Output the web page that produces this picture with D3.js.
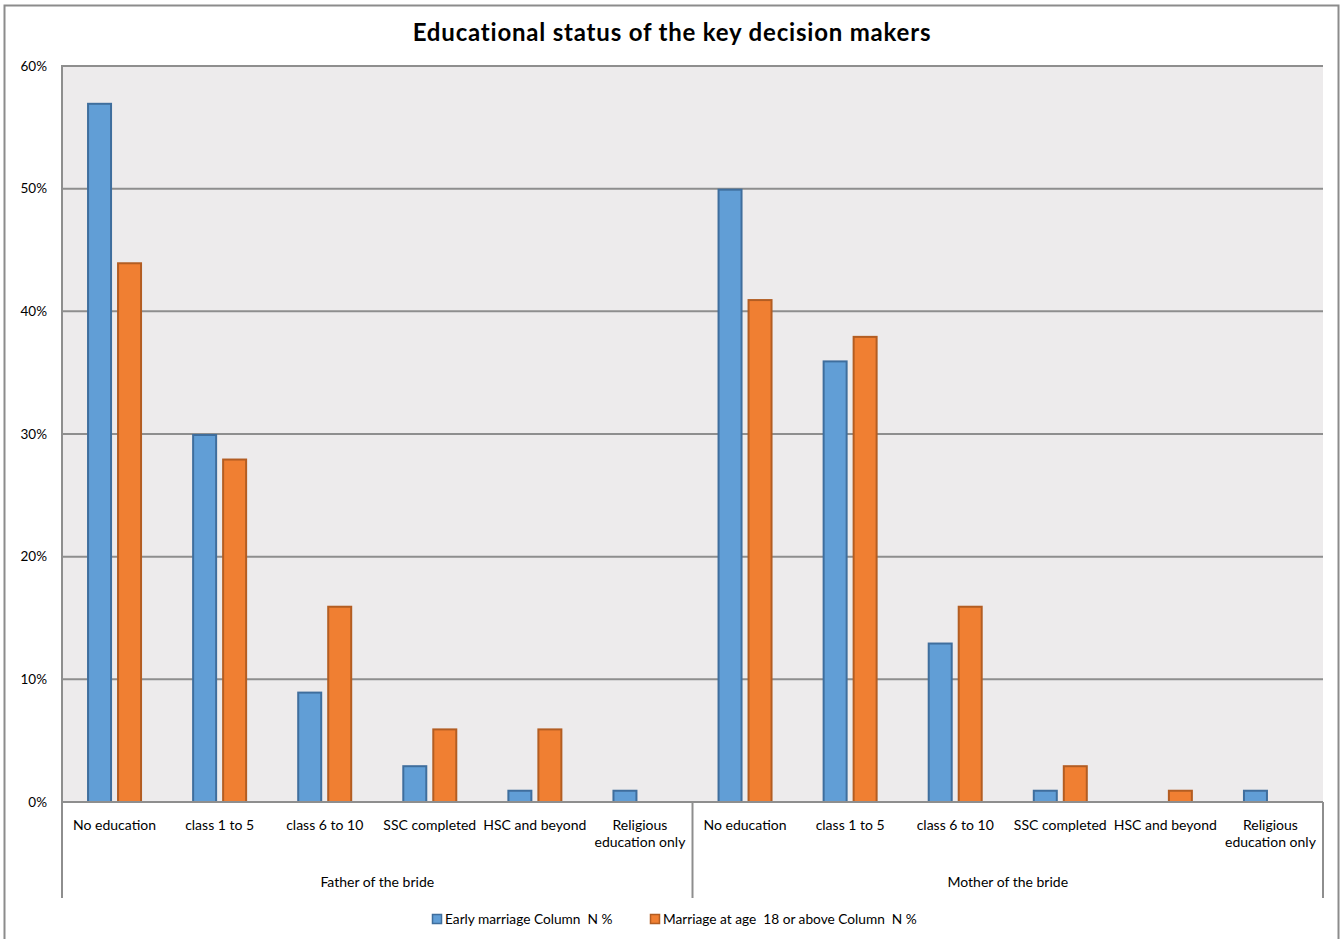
<!DOCTYPE html>
<html><head><meta charset="utf-8">
<script src="https://cdn.jsdelivr.net/npm/d3@7"></script>
<style>
html,body{margin:0;padding:0;background:#fff;}
svg{display:block;font-family:Lato,"Open Sans",sans-serif;}
</style></head>
<body><svg id="c" width="1340" height="939"></svg>
<script>
const title = "Educational status of the key decision makers";
const groups = ["Father of the bride", "Mother of the bride"];
const categories = ["No education", "class 1 to 5", "class 6 to 10", "SSC completed", "HSC and beyond", "Religious|education only"];
const seriesNames = ["Early marriage Column  N %", "Marriage at age  18 or above Column  N %"];
const earlyFather = [57, 30, 9, 3, 1, 1];
const laterFather = [44, 28, 16, 6, 6, 0];
const earlyMother = [50, 36, 13, 1, 0, 1];
const laterMother = [41, 38, 16, 3, 1, 0];
const yTicks = [0, 10, 20, 30, 40, 50, 60];

const colors = ["#619ED6", "#F07F32"];
const strokes = ["#3F6E9D", "#B35D22"];

const svg = d3.select("#c");
const L = 62, R = 1323, T = 66, B = 802;

// outer border
svg.append("rect").attr("x", 4.5).attr("y", 5.5).attr("width", 1334).attr("height", 945)
  .attr("fill", "#fff").attr("stroke", "#8c8c8c").attr("stroke-width", 2);

// title
svg.append("text").attr("x", 672).attr("y", 41).attr("text-anchor", "middle")
  .attr("font-size", 24).attr("font-weight", "bold").attr("letter-spacing", 0.8).attr("fill", "#000").text(title);

// plot background
svg.append("rect").attr("x", L).attr("y", T).attr("width", R - L).attr("height", B - T).attr("fill", "#EDEBEC");

const y = d3.scaleLinear().domain([0, 60]).range([B, T]);

// data rows
const rows = [];
groups.forEach((g, gi) => {
  const e = gi === 0 ? earlyFather : earlyMother;
  const l = gi === 0 ? laterFather : laterMother;
  categories.forEach((c, ci) => rows.push({key: gi + "-" + ci, group: gi, cat: c, vals: [e[ci], l[ci]]}));
});

const x0 = d3.scaleBand().domain(rows.map(d => d.key)).range([L, R]).padding(0);
const bw = x0.bandwidth();
const x1 = d3.scaleBand().domain([0, 1]).range([bw / 2 - 27.5, bw / 2 + 27.5]).paddingInner(1 / 6).paddingOuter(0);

// gridlines
svg.append("g").selectAll("line").data(yTicks).join("line")
  .attr("x1", L).attr("x2", R).attr("y1", d => y(d)).attr("y2", d => y(d))
  .attr("stroke", "#8e8e8e").attr("stroke-width", 2);

// y tick labels
svg.append("g").selectAll("text").data(yTicks).join("text")
  .attr("x", 47).attr("y", d => y(d) + 4.5).attr("text-anchor", "end")
  .attr("font-size", 13.5).attr("fill", "#000").text(d => d + "%");

// bars
const gBars = svg.append("g");
rows.forEach(r => {
  r.vals.forEach((v, si) => {
    if (v <= 0) return;
    gBars.append("rect")
      .attr("x", x0(r.key) + x1(si) + 1).attr("y", y(v) + 1)
      .attr("width", x1.bandwidth() - 2).attr("height", y(0) - y(v) - 1)
      .attr("fill", colors[si]).attr("stroke", strokes[si]).attr("stroke-width", 2);
  });
});

// axis lines
svg.append("line").attr("x1", L).attr("x2", L).attr("y1", T - 1).attr("y2", 898).attr("stroke", "#8e8e8e").attr("stroke-width", 2);
svg.append("line").attr("x1", R).attr("x2", R).attr("y1", B).attr("y2", 898).attr("stroke", "#8e8e8e").attr("stroke-width", 2);
svg.append("line").attr("x1", L).attr("x2", R).attr("y1", B).attr("y2", B).attr("stroke", "#8e8e8e").attr("stroke-width", 2);
const mid = x0(rows[6].key);
svg.append("line").attr("x1", mid).attr("x2", mid).attr("y1", B).attr("y2", 898).attr("stroke", "#8e8e8e").attr("stroke-width", 2);

// category labels
rows.forEach(r => {
  const lines = r.cat.split("|");
  const t = svg.append("text").attr("x", x0(r.key) + bw / 2).attr("y", 830)
    .attr("text-anchor", "middle").attr("font-size", 14).attr("fill", "#000");
  lines.forEach((ln, i) => t.append("tspan").attr("x", x0(r.key) + bw / 2).attr("dy", i === 0 ? 0 : 17).text(ln));
});

// group labels
groups.forEach((g, gi) => {
  const a = x0(rows[gi * 6].key), b = x0(rows[gi * 6 + 5].key) + bw;
  svg.append("text").attr("x", (a + b) / 2).attr("y", 887).attr("text-anchor", "middle")
    .attr("font-size", 14).attr("fill", "#000").text(g);
});

// legend
const legX = [432, 650];
seriesNames.forEach((s, i) => {
  svg.append("rect").attr("x", legX[i] + 0.5).attr("y", 914.5).attr("width", 9).attr("height", 9)
    .attr("fill", colors[i]).attr("stroke", strokes[i]).attr("stroke-width", 1.5);
  svg.append("text").attr("x", legX[i] + 13).attr("y", 924).attr("font-size", 13.7).attr("fill", "#000")
    .style("white-space", "pre").text(s);
});
</script>
</body></html>
